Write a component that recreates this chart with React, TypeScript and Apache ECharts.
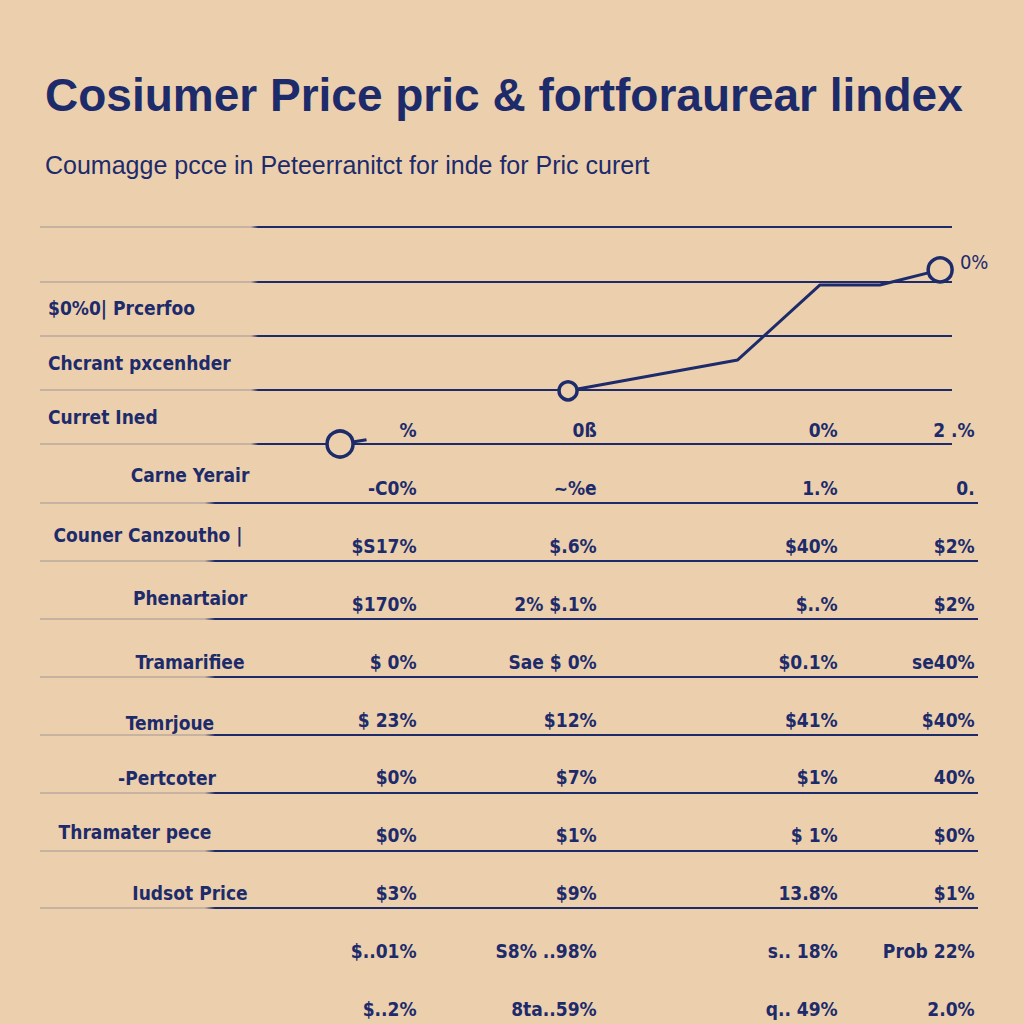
import React, { useEffect, useRef } from "react";
import * as echarts from "echarts";

const TITLE = "Cosiumer Price pric & fortforaurear lindex";
const SUBTITLE = "Coumagge pcce in Peteerranitct for inde for Pric curert";

// Upper trend panel
const bandLabels = ["", "$0%0| Prcerfoo", "Chcrant pxcenhder", "Curret Ined"];
const trendX = [32.9, 35.8, 57.9, 76.5, 85.5, 92.1, 98.7];
const trendY = [0, 0.08, 0.98, 1.55, 2.93, 2.93, 3.21];
const trendMarker = [26, 0, 18, 0, 0, 0, 24];
const lastPointLabel = "0%";

// Table rows
const rowLabels = [
  "",
  "Carne Yerair",
  "Couner Canzoutho |",
  "Phenartaior",
  "Tramarifiee",
  "Temrjoue",
  "-Pertcoter",
  "Thramater pece",
  "Iudsot Price",
  "",
  "",
];
const col1 = ["%", "-C0%", "$S17%", "$170%", "$ 0%", "$ 23%", "$0%", "$0%", "$3%", "$..01%", "$..2%"];
const col2 = ["0ß", "~%e", "$.6%", "2% $.1%", "Sae $ 0%", "$12%", "$7%", "$1%", "$9%", "S8% ..98%", "8ta..59%"];
const col3 = ["0%", "1.%", "$40%", "$..%", "$0.1%", "$41%", "$1%", "$ 1%", "13.8%", "s.. 18%", "q.. 49%"];
const col4 = ["2 .%", "0.", "$2%", "$2%", "se40%", "$40%", "40%", "$0%", "$1%", "Prob 22%", "2.0%"];
const columns = [col1, col2, col3, col4];

// layout (not data)
const COL_X = [40.2, 59.4, 85.1, 99.7];
// [top padding, right padding] per row label, used only to nudge label placement
const ROW_LABEL_PAD: number[][] = [
  [0, 0], [2, 0], [6, 84], [16, 0], [28, 0], [34, 40], [30, 46], [22, 110], [28, 0], [0, 0], [0, 0],
];

const NAVY = "#1d2b6b";
const BG = "#ecd0ae";
const FAINT = "rgba(29,43,107,0.18)";
const COND = "'DejaVu Sans Condensed', 'DejaVu Sans', sans-serif";

export default function App() {
  const ref = useRef<HTMLDivElement>(null);
  useEffect(() => {
    if (!ref.current) return;
    const chart = echarts.init(ref.current, null, { renderer: "svg" });

    const gradTop = new echarts.graphic.LinearGradient(
      0, 0, 1024, 0,
      [
        { offset: 0, color: FAINT },
        { offset: 0.245, color: FAINT },
        { offset: 0.252, color: NAVY },
        { offset: 1, color: NAVY },
      ],
      true
    );
    const gradTable = new echarts.graphic.LinearGradient(
      0, 0, 1024, 0,
      [
        { offset: 0, color: FAINT },
        { offset: 0.2, color: FAINT },
        { offset: 0.21, color: NAVY },
        { offset: 1, color: NAVY },
      ],
      true
    );
    const tableLineColors = rowLabels
      .concat([""])
      .map((_, i) => (i >= 2 && i <= 9 ? gradTable : "rgba(0,0,0,0)"));

    const rowRich: Record<string, any> = {};
    ROW_LABEL_PAD.forEach((p, i) => {
      rowRich["r" + i] = {
        padding: [p[0], p[1], 0, 0],
        color: NAVY,
        fontFamily: COND,
        fontWeight: "bold",
        fontSize: 19,
      };
    });

    const segA = [0, 1].map((i) => ({
      value: [trendX[i], trendY[i]],
      symbolSize: trendMarker[i],
      symbol: trendMarker[i] > 0 ? "circle" : "none",
    }));
    const segB = trendX.slice(2).map((x, k) => {
      const i = k + 2;
      return {
        value: [x, trendY[i]],
        symbolSize: trendMarker[i],
        symbol: trendMarker[i] > 0 ? "circle" : "none",
        label:
          i === trendX.length - 1
            ? {
                show: true,
                position: "right",
                distance: 6,
                offset: [0, -8],
                formatter: lastPointLabel,
                color: NAVY,
                fontFamily: COND,
                fontSize: 20,
              }
            : { show: false },
      };
    });

    const lineCommon = {
      type: "line",
      xAxisIndex: 0,
      yAxisIndex: 1,
      silent: true,
      showAllSymbol: true,
      lineStyle: { color: NAVY, width: 3 },
      itemStyle: { color: BG, borderColor: NAVY, borderWidth: 3.5 },
      z: 5,
    };

    const tableSeries = columns.map((col, c) => ({
      type: "scatter",
      xAxisIndex: 1,
      yAxisIndex: 2,
      silent: true,
      symbolSize: 1,
      itemStyle: { color: "rgba(0,0,0,0)", opacity: 1 },
      data: col.map((t, i) => ({ name: t, value: [COL_X[c], i] })),
      label: {
        show: true,
        position: "left",
        distance: 0,
        offset: [0, 14],
        formatter: (p: any) => p.name,
        color: NAVY,
        opacity: 1,
        fontFamily: COND,
        fontWeight: "bold",
        fontSize: 19,
      },
    }));

    chart.setOption({
      animation: false,
      backgroundColor: BG,
      title: {
        text: TITLE,
        subtext: SUBTITLE,
        left: 40,
        top: 67,
        itemGap: 34,
        textStyle: {
          fontFamily: "'Liberation Sans', Arial, sans-serif",
          fontWeight: "bold",
          fontSize: 46,
          color: NAVY,
        },
        subtextStyle: {
          fontFamily: "'Liberation Sans', Arial, sans-serif",
          fontSize: 25,
          color: NAVY,
        },
      },
      grid: [
        { left: 40, top: 227, width: 912, height: 217 },
        { left: 40, top: 387, width: 938, height: 637 },
      ],
      xAxis: [
        { type: "value", gridIndex: 0, min: 0, max: 100, show: false },
        { type: "value", gridIndex: 1, min: 0, max: 100, show: false },
      ],
      yAxis: [
        {
          type: "category",
          gridIndex: 0,
          inverse: true,
          data: bandLabels,
          axisLine: { show: false },
          axisTick: { show: false },
          axisLabel: {
            inside: true,
            margin: 8,
            align: "left",
            color: NAVY,
            fontFamily: COND,
            fontWeight: "bold",
            fontSize: 19,
          },
          splitLine: { show: true, lineStyle: { color: gradTop, width: 2 } },
        },
        { type: "value", gridIndex: 0, min: 0, max: 4, show: false },
        {
          type: "category",
          gridIndex: 1,
          inverse: true,
          data: rowLabels,
          axisLine: { show: false },
          axisTick: { show: false },
          axisLabel: {
            inside: true,
            margin: 150,
            align: "center",
            color: NAVY,
            fontFamily: COND,
            fontWeight: "bold",
            fontSize: 19,
            formatter: (v: string, i: number) => (v ? `{r${i}|${v}}` : ""),
            rich: rowRich,
          },
          splitLine: {
            show: true,
            lineStyle: { color: tableLineColors, width: 2 },
          },
        },
      ],
      series: [
        { ...lineCommon, data: segA },
        { ...lineCommon, data: segB },
        ...tableSeries,
      ],
    });
    return () => chart.dispose();
  }, []);

  return (
    <div
      ref={ref}
      style={{ position: "absolute", left: 0, top: 0, width: 1024, height: 1024 }}
    />
  );
}
